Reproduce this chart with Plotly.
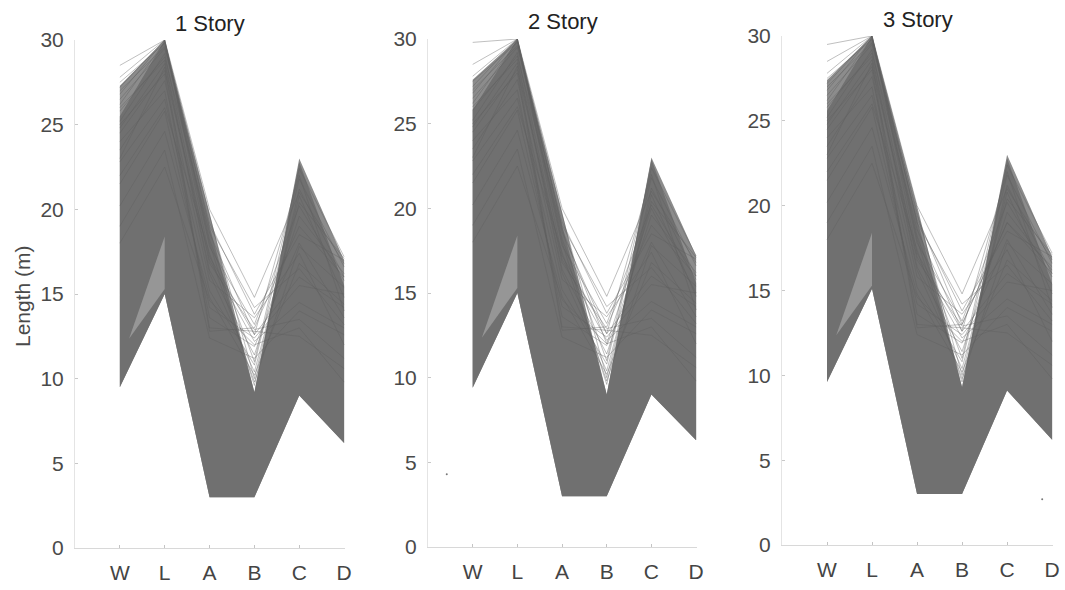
import plotly.graph_objects as go

# ---------------- data ----------------
AXES = ["W", "L", "A", "B", "C", "D"]
PANELS = ["1 Story", "2 Story", "3 Story"]
Y_TICKS = [0, 5, 10, 15, 20, 25, 30]

# dense core of the line bundle (upper / lower value at each axis)
dense_upper_1 = [25.5, 30.0, 19.0, 9.2, 22.8, 15.5]
dense_lower_1 = [9.5, 15.0, 3.0, 3.0, 9.0, 6.2]
dense_upper_2 = [25.8, 30.0, 19.0, 9.0, 22.9, 15.6]
dense_lower_2 = [9.4, 15.0, 3.0, 3.0, 9.0, 6.3]
dense_upper_3 = [25.6, 30.0, 19.2, 9.3, 22.8, 15.4]
dense_lower_3 = [9.6, 15.1, 3.0, 3.0, 9.1, 6.2]

# sparse outer fringe of the bundle
fringe_upper_1 = [27.3, 30.0, 19.8, 9.2, 23.0, 17.0]
fringe_upper_2 = [27.6, 30.0, 19.8, 9.0, 23.0, 17.2]
fringe_upper_3 = [27.4, 30.0, 20.0, 9.3, 23.0, 17.0]

# light sliver between W and L (two bounding lines: W value, L value)
sliver_line_a = [10.8, 18.4]
sliver_line_b = [11.6, 15.3]

# individual visible lines (W, L, A, B, C, D)
sparse_lines = [
    [27.2, 30.0, 20.0, 14.8, 21.0, 16.8],
    [26.5, 29.5, 19.2, 13.8, 18.5, 17.0],
    [25.8, 29.0, 18.6, 12.6, 16.0, 14.2],
    [27.5, 29.8, 17.8, 13.2, 20.2, 15.8],
    [24.5, 28.2, 17.0, 12.2, 14.5, 13.0],
    [26.0, 28.8, 16.4, 11.4, 19.6, 16.2],
    [23.5, 27.6, 15.8, 13.6, 17.4, 12.0],
    [22.8, 26.5, 15.2, 10.8, 21.8, 16.6],
    [25.2, 29.2, 16.8, 12.9, 13.5, 11.2],
    [21.5, 25.8, 14.2, 12.4, 15.5, 15.0],
    [24.0, 27.0, 13.6, 11.9, 18.0, 13.6],
    [20.2, 24.6, 14.8, 10.2, 16.8, 14.4],
    [26.8, 30.0, 18.2, 11.0, 22.4, 17.2],
    [23.0, 28.4, 13.0, 12.8, 12.5, 10.6],
    [19.0, 23.5, 12.4, 11.2, 14.0, 12.6],
    [27.0, 29.6, 19.6, 10.0, 20.8, 14.8],
    [22.0, 26.0, 17.4, 9.8, 17.8, 15.4],
    [25.0, 28.0, 12.8, 13.0, 19.0, 16.0],
    [18.0, 22.5, 14.6, 12.0, 13.0, 9.8],
    [28.5, 30.0, 19.0, 14.2, 16.5, 13.2],
    [26.2, 29.9, 18.0, 9.6, 21.2, 16.0],
    [24.8, 28.6, 16.2, 10.4, 20.4, 17.1],
    [27.8, 30.0, 17.2, 12.6, 22.0, 14.0],
]
extra_lines_2 = [[29.8, 30.0, 18.8, 12.0, 20.0, 15.0]]
extra_lines_3 = [[29.5, 30.0, 19.4, 13.0, 19.0, 16.4]]

# stray scan specks (axis position, value)
speck_2 = [0.42, 4.3]
speck_3 = [5.78, 2.7]

dense_upper = [dense_upper_1, dense_upper_2, dense_upper_3]
dense_lower = [dense_lower_1, dense_lower_2, dense_lower_3]
fringe_upper = [fringe_upper_1, fringe_upper_2, fringe_upper_3]
extra_lines = [[], extra_lines_2, extra_lines_3]
specks = [None, speck_2, speck_3]

# ---------------- layout geometry ----------------
W_FIG, H_FIG = 1065, 590
x_doms = [(75, 345), (428, 697), (782, 1053)]     # px
y_doms = [(40, 548), (39, 547), (36, 545)]         # px (top=30, bottom=0)

FONT = "Liberation Sans, Arial, sans-serif"
DENSE = "rgb(112,112,112)"
FRINGE = "rgb(140,140,140)"
SLIVER = "rgb(150,150,150)"
LINE = "rgba(95,95,95,0.5)"

fig = go.Figure()
xs = list(range(1, len(AXES) + 1))

for i, name in enumerate(PANELS):
    xa = "x" if i == 0 else f"x{i+1}"
    ya = "y" if i == 0 else f"y{i+1}"

    fig.add_trace(go.Scatter(
        x=xs + xs[::-1], y=fringe_upper[i] + dense_lower[i][::-1],
        fill="toself", fillcolor=FRINGE, mode="lines", line=dict(width=0),
        hoverinfo="skip", showlegend=False, xaxis=xa, yaxis=ya))
    fig.add_trace(go.Scatter(
        x=xs + xs[::-1], y=dense_upper[i] + dense_lower[i][::-1],
        fill="toself", fillcolor=DENSE, mode="lines", line=dict(width=0),
        hoverinfo="skip", showlegend=False, xaxis=xa, yaxis=ya))

    a0, a1 = sliver_line_a
    b0, b1 = sliver_line_b
    t = (b0 - a0) / ((a1 - a0) - (b1 - b0))
    cx, cy = 1 + t, a0 + t * (a1 - a0)
    fig.add_trace(go.Scatter(
        x=[cx, 2, 2, cx], y=[cy, a1, b1, cy],
        fill="toself", fillcolor=SLIVER, mode="lines", line=dict(width=0),
        hoverinfo="skip", showlegend=False, xaxis=xa, yaxis=ya))

    lx, ly = [], []
    for row in sparse_lines + extra_lines[i]:
        lx += xs + [None]
        ly += row + [None]
    fig.add_trace(go.Scatter(
        x=lx, y=ly, mode="lines", line=dict(color=LINE, width=0.8),
        hoverinfo="skip", showlegend=False, xaxis=xa, yaxis=ya))

    if specks[i] is not None:
        fig.add_trace(go.Scatter(
            x=[specks[i][0]], y=[specks[i][1]], mode="markers",
            marker=dict(color="rgb(120,120,120)", size=2),
            hoverinfo="skip", showlegend=False, xaxis=xa, yaxis=ya))

    x0, x1 = x_doms[i]
    yt, yb = y_doms[i]
    xkey = "xaxis" if i == 0 else f"xaxis{i+1}"
    ykey = "yaxis" if i == 0 else f"yaxis{i+1}"
    fig.update_layout(**{
        xkey: dict(
            domain=[x0 / W_FIG, x1 / W_FIG], range=[0, 6.02],
            tickvals=xs, ticktext=AXES, showgrid=False, zeroline=False,
            showline=True, linecolor="#d8d8d8", linewidth=1,
            ticks="inside", ticklen=3, tickcolor="#c4c4c4",
            tickfont=dict(family=FONT, size=21, color="#444"),
            ticklabelstandoff=6, anchor=ya, fixedrange=True,
            automargin=False),
        ykey: dict(
            domain=[1 - yb / H_FIG, 1 - yt / H_FIG], range=[0, 30],
            tickvals=Y_TICKS, showgrid=False, zeroline=False,
            showline=True, linecolor="#e4e4e4", linewidth=1,
            ticks="inside", ticklen=3, tickcolor="#c8c8c8",
            tickfont=dict(family=FONT, size=21, color="#4a4a4a"),
            ticklabelstandoff=6, anchor=xa, fixedrange=True,
            automargin=False),
    })

    fig.add_annotation(
        text=name, xref="paper", yref="paper",
        x=(x0 + x1) / 2 / W_FIG, y=1 - (yt - 17) / H_FIG,
        xanchor="center", yanchor="middle", showarrow=False,
        font=dict(family=FONT, size=22, color="#222"))

fig.add_annotation(
    text="Length (m)", xref="paper", yref="paper",
    x=22 / W_FIG, y=1 - 296 / H_FIG, textangle=-90,
    xanchor="center", yanchor="middle", showarrow=False,
    font=dict(family=FONT, size=21, color="#4a4a4a"))

fig.update_layout(
    width=W_FIG, height=H_FIG,
    margin=dict(l=0, r=0, t=0, b=0, pad=0, autoexpand=False),
    paper_bgcolor="white", plot_bgcolor="white",
    font=dict(family=FONT), showlegend=False)

fig.write_html("out.html")
